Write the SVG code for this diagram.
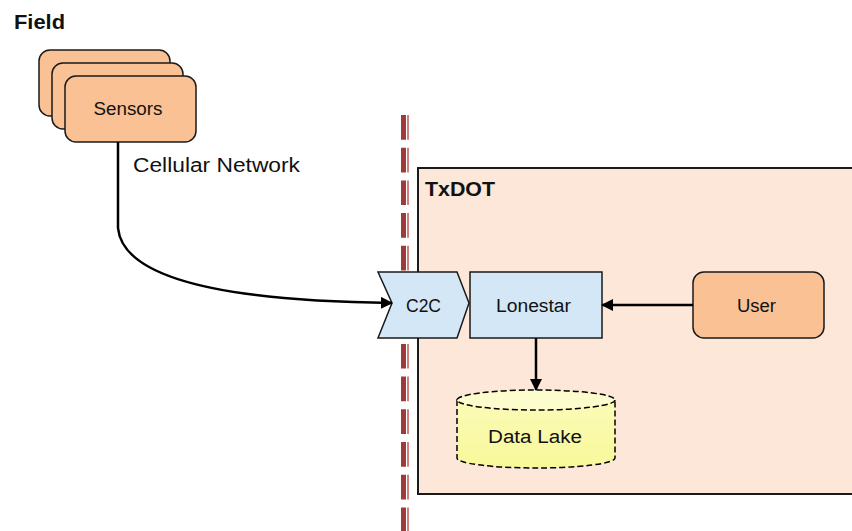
<svg xmlns="http://www.w3.org/2000/svg" width="852" height="531" viewBox="0 0 852 531">
<style>
text{font-family:"Liberation Sans",Arial,sans-serif;fill:#111;}
.lbl{font-size:18px;text-anchor:middle;}
.bold{font-weight:bold;font-size:20px;}
.orange{fill:#F9C194;stroke:#1a1a1a;stroke-width:1.5;}
.blue{fill:#D3E7F6;stroke:#1a1a1a;stroke-width:1.5;}
.conn{fill:none;stroke:#000;stroke-width:2.5;}
</style>
<defs>
<marker id="arr" markerWidth="12" markerHeight="12" refX="11" refY="6" orient="auto" markerUnits="userSpaceOnUse">
<path d="M0,0 L12,6 L0,12 Z" fill="#000"/>
</marker>
<linearGradient id="lake" x1="0" y1="0" x2="0" y2="1">
<stop offset="0" stop-color="#FBFBB8"/>
<stop offset="1" stop-color="#F8F89A"/>
</linearGradient>
</defs>
<rect width="852" height="531" fill="#fff"/>

<g id="boundary">
<line x1="403.5" y1="115" x2="403.5" y2="531" stroke="#9E3A3A" stroke-width="5" stroke-dasharray="24.7 8"/>
<line x1="408" y1="115" x2="408" y2="531" stroke="#C05858" stroke-width="1.5" stroke-dasharray="24.7 8"/>
</g>

<g id="txdot">
<rect x="418" y="168" width="445" height="326" fill="#FCE7D8" stroke="#1a1a1a" stroke-width="2"/>
<text x="425" y="196" class="bold" textLength="70" lengthAdjust="spacingAndGlyphs">TxDOT</text>
</g>

<text x="14" y="29" class="bold" textLength="51" lengthAdjust="spacingAndGlyphs">Field</text>

<g id="sensors">
<rect x="39" y="50" width="131" height="66" rx="11" class="orange"/>
<rect x="52" y="63" width="131" height="66" rx="11" class="orange"/>
<rect x="65" y="76" width="131" height="66" rx="11" class="orange"/>
<text x="128" y="115" class="lbl" font-size="19" textLength="69" lengthAdjust="spacingAndGlyphs">Sensors</text>
</g>

<g id="c2c">
<path d="M378,272 L457,272 L469,303 L457,338 L378,338 L392,303 Z" class="blue"/>
<text x="423.5" y="312" class="lbl" textLength="35" lengthAdjust="spacingAndGlyphs">C2C</text>
</g>

<g id="lonestar">
<rect x="470" y="272" width="132" height="66" class="blue"/>
<text x="533.5" y="312" class="lbl" textLength="75" lengthAdjust="spacingAndGlyphs">Lonestar</text>
</g>

<g id="user">
<rect x="693" y="272" width="131" height="66" rx="11" class="orange"/>
<text x="756.5" y="312" class="lbl" textLength="39" lengthAdjust="spacingAndGlyphs">User</text>
</g>

<g id="datalake">
<path d="M457,400 L457,458 A79,10 0 0 0 615,458 L615,400 Z" fill="url(#lake)" stroke="#000" stroke-width="1.5" stroke-dasharray="6 3"/>
<ellipse cx="536" cy="400" rx="79" ry="10" fill="#FCFCCC" stroke="#000" stroke-width="1.5" stroke-dasharray="6 3"/>
<text x="535" y="443" class="lbl" font-size="21" textLength="94" lengthAdjust="spacingAndGlyphs">Data Lake</text>
</g>

<g id="connectors">
<path d="M118,142 V228 Q125,300 392,303" class="conn" marker-end="url(#arr)"/>
<path d="M693,305 H602" class="conn" marker-end="url(#arr)"/>
<path d="M536,338 V390" class="conn" marker-end="url(#arr)"/>
<text x="133" y="172" font-size="20" textLength="167" lengthAdjust="spacingAndGlyphs">Cellular Network</text>
</g>
</svg>
